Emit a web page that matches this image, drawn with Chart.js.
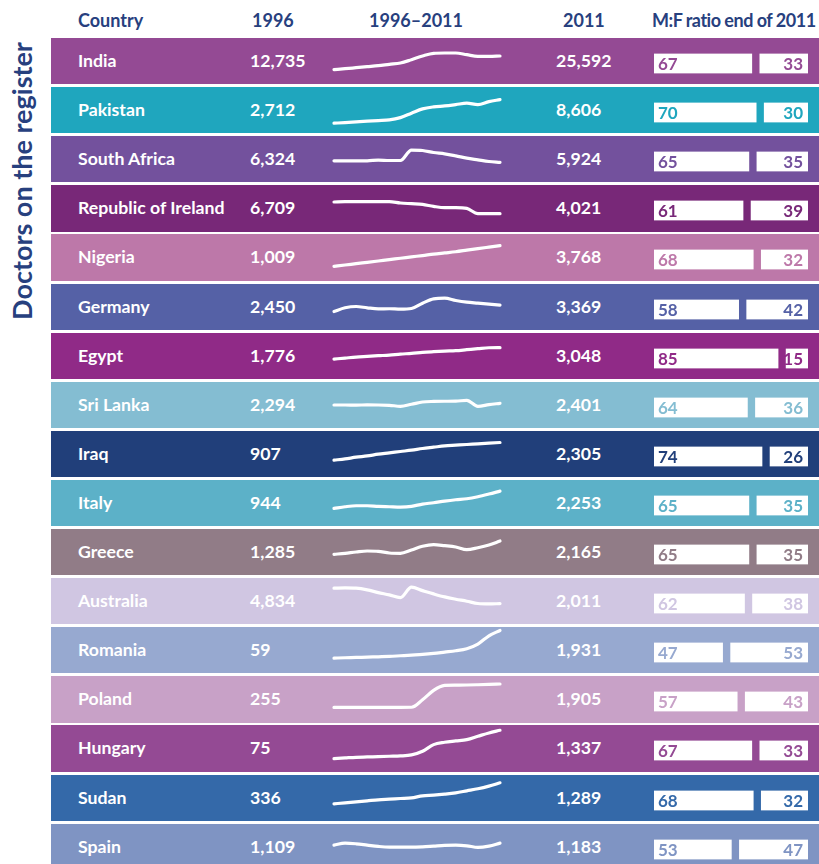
<!DOCTYPE html>
<html>
<head>
<meta charset="utf-8">
<script src="https://cdn.jsdelivr.net/npm/chart.js@4.4.1/dist/chart.umd.min.js"></script>
<style>
  html, body { margin: 0; padding: 0; background: #ffffff; }
  #wrap { position: relative; width: 819px; height: 864px; overflow: hidden; font-family: Lato, "Open Sans", sans-serif; }
  .hdr { position: absolute; top: 0; height: 40px; line-height: 40px; font-weight: 700; font-size: 18px; color: #27407e; white-space: nowrap; }
  .row { position: absolute; left: 51px; width: 768px; height: 46.3px; }
  .txt { position: absolute; top: 0; height: 46px; line-height: 46px; font-weight: 700; font-size: 17.7px; color: #ffffff; white-space: nowrap; }
  .spark { position: absolute; left: 279px; top: 0; }
  .mf { position: absolute; left: 599px; top: 0; }
  .lbl { position: absolute; height: 20px; line-height: 20px; font-weight: 700; font-size: 17px; white-space: nowrap; }
  #side { position: absolute; left: -128px; top: 165px; width: 300px; height: 32px; line-height: 32px; text-align: center;
          transform: rotate(-90deg); transform-origin: 50% 50%; font-weight: 700; font-size: 27px; color: #27407e; white-space: nowrap; }
</style>
</head>
<body>
<div id="wrap">
  <div id="side">Doctors on the register</div>
</div>
<script>
// ---------------- DATA ----------------
const headers = ['Country', '1996', '1996–2011', '2011', 'M:F ratio end of 2011'];
const sideTitle = 'Doctors on the register';
const years = ['1996','1997','1998','1999','2000','2001','2002','2003','2004','2005','2006','2007','2008','2009','2010','2011'];

const countries = ['India','Pakistan','South Africa','Republic of Ireland','Nigeria','Germany','Egypt','Sri Lanka','Iraq','Italy','Greece','Australia','Romania','Poland','Hungary','Sudan','Spain'];
const doctors1996 = [12735, 2712, 6324, 6709, 1009, 2450, 1776, 2294, 907, 944, 1285, 4834, 59, 255, 75, 336, 1109];
const doctors2011 = [25592, 8606, 5924, 4021, 3768, 3369, 3048, 2401, 2305, 2253, 2165, 2011, 1931, 1905, 1337, 1289, 1183];
const maleShare   = [67, 70, 65, 61, 68, 58, 85, 64, 74, 65, 65, 62, 47, 57, 67, 68, 53];
const femaleShare = [33, 30, 35, 39, 32, 42, 15, 36, 26, 35, 35, 38, 53, 43, 33, 32, 47];

// yearly doctors on the register, 1996–2011 (estimated from the sparklines)
const trendIndia       = [12735, 13670, 14610, 15550, 16490, 17800, 19020, 22120, 25590, 28130, 28410, 28400, 26810, 25310, 25320, 25592];
const trendPakistan    = [2712, 2862, 3037, 3211, 3361, 3536, 4110, 5209, 6283, 6782, 7032, 7356, 7706, 7356, 8106, 8606];
const trendSouthAfrica = [6324, 6324, 6330, 6320, 6500, 6400, 6400, 9000, 8900, 8400, 8070, 7570, 7000, 6570, 6150, 5924];
const trendIreland     = [6709, 6780, 6780, 6775, 6780, 6778, 6480, 6320, 6160, 5700, 5400, 5400, 5240, 4030, 4020, 4021];
const trendNigeria     = [1009, 1180, 1365, 1540, 1720, 1905, 2080, 2265, 2440, 2630, 2790, 2950, 3160, 3370, 3570, 3768];
const trendGermany     = [2450, 2990, 3180, 2990, 2844, 2850, 2790, 2888, 3661, 4303, 4390, 4055, 3807, 3661, 3515, 3369];
const trendEgypt       = [1776, 1888, 1999, 2077, 2155, 2222, 2334, 2412, 2524, 2602, 2669, 2714, 2825, 2937, 3040, 3048];
const trendSriLanka    = [2294, 2294, 2290, 2296, 2294, 2275, 2212, 2338, 2483, 2520, 2530, 2535, 2590, 2212, 2319, 2401];
const trendIraq        = [907, 1010, 1144, 1247, 1381, 1484, 1594, 1697, 1831, 1934, 2037, 2092, 2147, 2195, 2250, 2305];
const trendItaly       = [944, 1070, 1146, 1146, 1095, 1070, 1045, 1095, 1272, 1373, 1499, 1600, 1676, 1827, 2029, 2253];
const trendGreece      = [1285, 1351, 1437, 1503, 1484, 1371, 1351, 1570, 1815, 1921, 1855, 1768, 1590, 1722, 1901, 2165];
const trendAustralia   = [4834, 4889, 4834, 4522, 4027, 3606, 3111, 5017, 4394, 3789, 3239, 2818, 2451, 2030, 1956, 2011];
const trendRomania     = [59, 82, 104, 127, 149, 172, 217, 262, 308, 375, 466, 556, 692, 1008, 1573, 1931];
const trendPoland      = [255, 256, 258, 259, 260, 262, 263, 265, 795, 1454, 1806, 1829, 1835, 1853, 1876, 1905];
const trendHungary     = [75, 105, 134, 149, 164, 179, 194, 239, 402, 699, 803, 863, 922, 1071, 1220, 1337];
const trendSudan       = [336, 381, 427, 472, 518, 548, 578, 608, 699, 729, 775, 835, 926, 1017, 1138, 1289];
const trendSpain       = [1109, 1183, 1158, 1109, 1060, 1034, 1034, 1034, 1047, 1072, 1097, 1109, 1084, 1023, 1072, 1183];

const trends = [trendIndia, trendPakistan, trendSouthAfrica, trendIreland, trendNigeria, trendGermany, trendEgypt, trendSriLanka,
                trendIraq, trendItaly, trendGreece, trendAustralia, trendRomania, trendPoland, trendHungary, trendSudan, trendSpain];

// per-sparkline value axis range
const sparkMin = [-690, 265, 1024, 48, -817, -249, -445, 845, -420, -388, -85, -1728, -951, -774, -478, -445, 188];
const sparkMax = [42490, 11751, 12524, 10614, 5315, 6462, 4689, 3743, 3214, 3094, 2960, 6704, 2168, 2469, 1574, 1644, 1890];

// ---------------- STYLE / LAYOUT ----------------
const rowColours = ['#944a94', '#1fa6be', '#73519d', '#782878', '#bd78a9', '#5561a6', '#902a87', '#84bdd2', '#213f7a',
                    '#5cb1c8', '#917c87', '#d0c6e2', '#97a9d0', '#c8a1c7', '#944a94', '#3469a9', '#7f94c3'];
const ROW_TOP = 38, ROW_PITCH = 49.1;
const MF_GAP = 5.5;
const MF_CANVAS_LEFT = 599;
const headerLeft = [78, 252, null, 563, 652];
const headerSpacing = ['0px', '0px', '0px', '0px', '-0.5px'];

const fmt = v => v.toLocaleString('en-GB');
const wrap = document.getElementById('wrap');
document.getElementById('side').textContent = sideTitle;

headers.forEach((h, k) => {
  const d = document.createElement('div');
  d.className = 'hdr';
  d.textContent = h;
  d.style.letterSpacing = headerSpacing[k];
  if (headerLeft[k] === null) { d.style.left = '316px'; d.style.width = '200px'; d.style.textAlign = 'center'; }
  else d.style.left = headerLeft[k] + 'px';
  wrap.appendChild(d);
});

// Places the share labels (as HTML text) on the bars, using the bar elements' positions
const mfLabelPlugin = {
  id: 'mfLabels',
  afterRender(chart, args, opts) {
    if (chart.$labelsDone) return;
    chart.$labelsDone = true;
    const row = chart.canvas.parentNode;
    chart.data.datasets.forEach((ds, di) => {
      const el = chart.getDatasetMeta(di).data[0];
      const p = el.getProps(['x', 'y', 'base'], true);
      const lo = Math.min(p.x, p.base), hi = Math.max(p.x, p.base);
      const s = document.createElement('span');
      s.className = 'lbl';
      s.textContent = String(ds.share);
      s.style.color = opts.colour;
      s.style.top = (p.y - 10 + 0.5) + 'px';
      if (di === 0) { s.style.left = (MF_CANVAS_LEFT + lo + 4) + 'px'; }
      else { s.style.right = (row.clientWidth - (MF_CANVAS_LEFT + hi - 5)) + 'px'; }
      row.appendChild(s);
    });
  }
};

countries.forEach((c, i) => {
  const row = document.createElement('div');
  row.className = 'row';
  row.style.top = (ROW_TOP + i * ROW_PITCH) + 'px';
  row.style.background = rowColours[i];

  const t1 = document.createElement('span'); t1.className = 'txt'; t1.style.left = '27px'; t1.textContent = c; row.appendChild(t1);
  const t2 = document.createElement('span'); t2.className = 'txt'; t2.style.left = '199px'; t2.textContent = fmt(doctors1996[i]); row.appendChild(t2);
  const t3 = document.createElement('span'); t3.className = 'txt'; t3.style.left = '505px'; t3.textContent = fmt(doctors2011[i]); row.appendChild(t3);

  const sc = document.createElement('canvas'); sc.className = 'spark'; sc.width = 174; sc.height = 46; row.appendChild(sc);
  const mc = document.createElement('canvas'); mc.className = 'mf'; mc.width = 162; mc.height = 46; row.appendChild(mc);
  wrap.appendChild(row);

  new Chart(sc, {
    type: 'line',
    data: { labels: years, datasets: [{
      data: trends[i], borderColor: '#ffffff', borderWidth: 3.2, pointRadius: 0, fill: false,
      cubicInterpolationMode: 'monotone', borderCapStyle: 'round', borderJoinStyle: 'round', clip: 6
    }]},
    options: {
      responsive: false, animation: false, events: [],
      layout: { padding: { left: 4, right: 4, top: 0, bottom: 0 } },
      plugins: { legend: { display: false }, tooltip: { enabled: false } },
      scales: { x: { display: false }, y: { display: false, min: sparkMin[i], max: sparkMax[i] } }
    }
  });

  new Chart(mc, {
    type: 'bar',
    data: { labels: ['M:F'], datasets: [
      { label: 'Male', share: maleShare[i], data: [[0, maleShare[i]]], backgroundColor: '#ffffff' },
      { label: 'Female', share: femaleShare[i], data: [[maleShare[i] + MF_GAP, maleShare[i] + MF_GAP + femaleShare[i]]], backgroundColor: '#ffffff' }
    ]},
    options: {
      indexAxis: 'y', responsive: false, animation: false, events: [],
      layout: { padding: { left: 4, right: 4, top: 15.5, bottom: 10.5 } },
      datasets: { bar: { grouped: false, barPercentage: 1, categoryPercentage: 1, borderWidth: 0, borderSkipped: false } },
      plugins: { legend: { display: false }, tooltip: { enabled: false }, mfLabels: { colour: rowColours[i] } },
      scales: { x: { display: false, min: 0, max: 100 + MF_GAP }, y: { display: false } }
    },
    plugins: [mfLabelPlugin]
  });
});
</script>
</body>
</html>
